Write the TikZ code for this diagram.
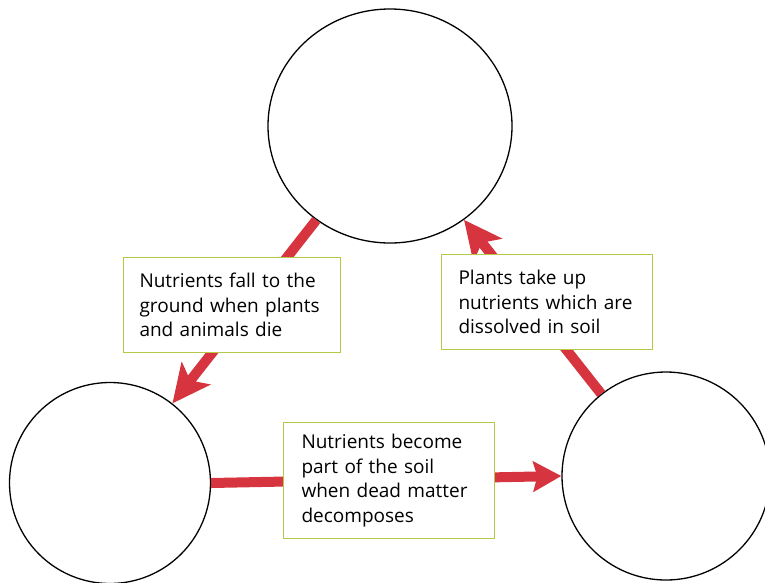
\documentclass[tikz,border=0pt]{standalone}
\usepackage{fontspec}
\newfontfamily\boxfont{Open Sans}
\usetikzlibrary{arrows.meta,shapes.geometric}
\definecolor{arrred}{RGB}{214,52,62}
\definecolor{boxgreen}{RGB}{182,200,70}
\tikzset{
  ring/.style={draw=black, line width=1.3pt, fill=none, inner sep=0pt},
  arr/.style={draw=arrred, line width=10pt},
  bighead/.style={-{Stealth[length=38pt,width=36pt,inset=9pt,fill=arrred]}},
  smallhead/.style={-{Stealth[length=28pt,width=30pt,inset=4pt,fill=arrred]}},
  textbox/.style={draw=boxgreen, line width=1pt, fill=white, align=left,
    font=\boxfont\fontsize{19}{24.5}\selectfont, anchor=north west,
    inner ysep=0pt}
}
\begin{document}
\begin{tikzpicture}[x=1pt,y=-1pt]
\useasboundingbox (0,0) rectangle (765,582);
% circles
\node[ring, ellipse, minimum width=244pt, minimum height=234pt] (top) at (390,126) {};
\node[ring, circle, minimum size=201pt] (left) at (110,483) {};
\node[ring, circle, minimum size=208pt] (right) at (666,476) {};
% arrows
\draw[arr, bighead] (top) -- (left);
\draw[arr, bighead] (right) -- (top);
\draw[arr, smallhead] (left.east) -- (right.west);
% boxes
\node[textbox, inner xsep=16pt, minimum width=217pt, minimum height=95pt, text width=185pt] (b1) at (123,257)
  {Nutrients fall to the\\ground when plants\\and animals die};
\node[textbox, inner xsep=17pt, minimum width=211pt, minimum height=95pt, text width=177pt] (b2) at (441,254)
  {Plants take up\\nutrients which are\\dissolved in soil};
\node[textbox, inner xsep=18pt, minimum width=211pt, minimum height=116pt, text width=175pt] (b3) at (283,422)
  {Nutrients become\\part of the soil\\when dead matter\\decomposes};
\end{tikzpicture}
\end{document}
